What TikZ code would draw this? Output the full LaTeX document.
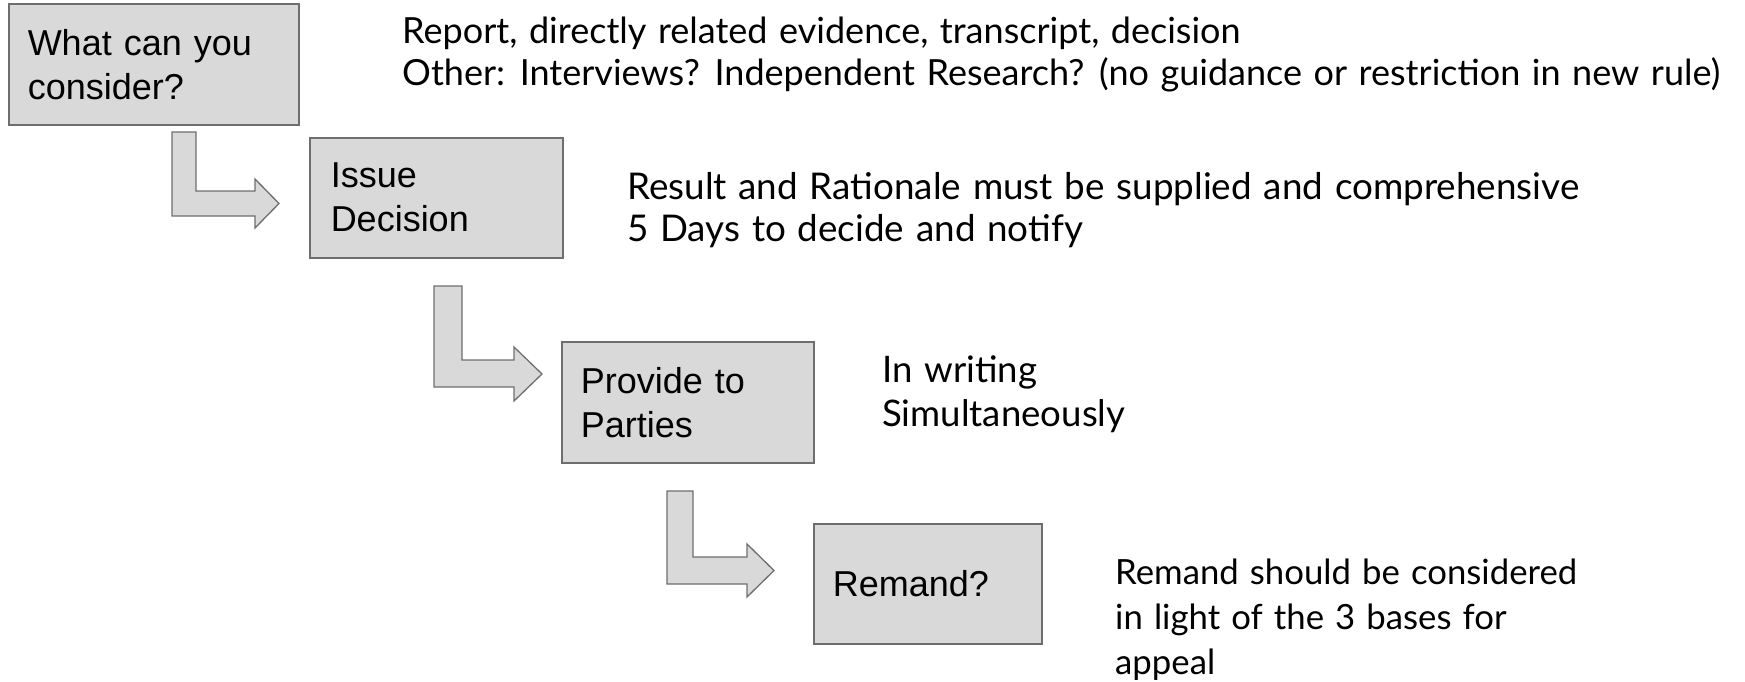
\documentclass[tikz,border=0pt]{standalone}
\usepackage{fontspec}
\setmainfont{Liberation Sans}
\newfontfamily\descfamily[WordSpace=1.25]{Lato}
\newlength\fitlen
\newcommand\fitfont[3]{% #1 target width, #2 leading, #3 sample line
  \spaceskip=0pt \xspaceskip=0pt
  \settowidth\fitlen{\descfamily\fontsize{10}{12}\selectfont #3}%
  \pgfmathsetmacro\fitsz{10*#1/\fitlen}%
  \descfamily\fontsize{\fitsz}{#2}\selectfont}
% #1 target width of sample line, #2 leading, #3 sample line, #4 lines separated by \\
\newcommand\desctext[4]{\vtop{\fitfont{#1}{#2}{#3}\lineskiplimit=-100pt
  \def\\{\egroup\hbox\bgroup}\hbox\bgroup#4\egroup}}
\definecolor{boxfill}{HTML}{D9D9D9}
\definecolor{boxline}{HTML}{6E6E6E}
\tikzset{
  stepbox/.style={draw=boxline, fill=boxfill, line width=1.5pt, anchor=north west,
    inner xsep=19pt, inner ysep=0pt, align=left,
    font=\fontsize{36}{44}\selectfont},
  bentarrow/.style={draw=boxline, fill=boxfill, line width=1.3pt, line join=miter},
  desc/.style={anchor=base west, inner sep=0pt}
}
\begin{document}
\begin{tikzpicture}[x=1pt,y=-1pt]
\useasboundingbox (0,0) rectangle (1745,681);
% boxes
\node[stepbox, minimum width=290pt, minimum height=121pt, text width=252pt] (b1) at (8,3) {What can you\\consider?};
\node[stepbox, minimum width=253pt, minimum height=120pt, text width=211pt, inner xsep=21pt] (b2) at (309,137) {Issue\\Decision};
\node[stepbox, minimum width=252pt, minimum height=121pt, text width=214pt] (b3) at (561,341) {Provide to\\Parties};
\node[stepbox, minimum width=228pt, minimum height=120pt, text width=190pt] (b4) at (813,523) {Remand?};
% bent arrows
\draw[bentarrow] (172,132) -- (196,132) -- (196,191) -- (255,191) -- (255,179) -- (279,203.5) -- (255,228) -- (255,216) -- (172,216) -- cycle;
\draw[bentarrow] (434,286) -- (462,286) -- (462,360) -- (514,360) -- (514,347) -- (542,374) -- (514,401) -- (514,387) -- (434,387) -- cycle;
\draw[bentarrow] (667,491) -- (693,491) -- (693,557) -- (747,557) -- (747,544) -- (774,570.5) -- (747,597) -- (747,584) -- (667,584) -- cycle;
% descriptions
\node[desc] (t1) at (402,43) {\desctext{1318}{42}{Other: Interviews? Independent Research? (no guidance or restriction in new rule)}%
{Report, directly related evidence, transcript, decision\\Other: Interviews? Independent Research? (no guidance or restriction in new rule)}};
\node[desc] (t2) at (627,199) {\desctext{952}{42}{Result and Rationale must be supplied and comprehensive}%
{Result and Rationale must be supplied and comprehensive\\5 Days to decide and notify}};
\node[desc] (t3) at (882,382) {\desctext{243}{44.5}{Simultaneously}%
{In writing\\Simultaneously}};
\node[desc] (t4) at (1115,584) {\desctext{462}{45}{Remand should be considered}%
{Remand should be considered\\in light of the 3 bases for\\appeal}};
\end{tikzpicture}
\end{document}
